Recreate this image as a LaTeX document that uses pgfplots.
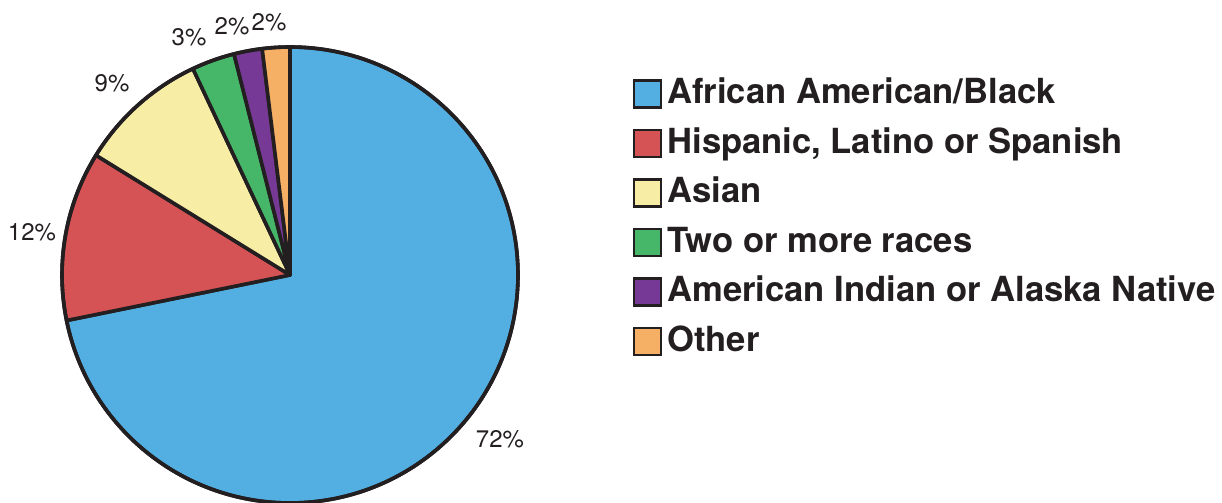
\documentclass[border=0pt]{standalone}
\usepackage{fontspec}
\setmainfont{TeX Gyre Heros}
\usepackage{pgfplots}
\usepackage{pgfplotstable}
\pgfplotsset{compat=1.18}
\definecolor{cblue}{HTML}{53AEE1}
\definecolor{cred}{HTML}{D65355}
\definecolor{cyellow}{HTML}{F7EDA5}
\definecolor{cgreen}{HTML}{46B769}
\definecolor{cpurple}{HTML}{773996}
\definecolor{corange}{HTML}{F5B066}
\definecolor{cline}{HTML}{231F20}
\pgfplotstableread{
value col label lx ly
71.8 cblue 72 500 64
12.0 cred 12 32 271
9.2 cyellow 9 112 420
3.05 cgreen 3 189 466
2.0 cpurple 2 232 477
1.95 corange 2 269 481
}\piedata
\pgfplotstableread[col sep=comma]{
name,col
African American/Black,cblue
{Hispanic, Latino or Spanish},cred
Asian,cyellow
Two or more races,cgreen
American Indian or Alaska Native,cpurple
Other,corange
}\legdata
\begin{document}
\begin{tikzpicture}
\begin{axis}[
  x=0.5pt, y=0.5pt,
  xmin=0, xmax=1222, ymin=0, ymax=503,
  hide axis, clip=true,
]
\def\cum{0}
\pgfplotsforeachungrouped \i in {0,...,5}{%
  \pgfplotstablegetelem{\i}{value}\of\piedata \let\sliceval\pgfplotsretval
  \pgfplotstablegetelem{\i}{col}\of\piedata \let\slicecol\pgfplotsretval
  \pgfplotstablegetelem{\i}{label}\of\piedata \let\slicelab\pgfplotsretval
  \pgfplotstablegetelem{\i}{lx}\of\piedata \let\slicelx\pgfplotsretval
  \pgfplotstablegetelem{\i}{ly}\of\piedata \let\slicely\pgfplotsretval
  \pgfmathsetmacro\angA{90-3.6*\cum}
  \pgfmathsetmacro\angB{90-3.6*(\cum+\sliceval)}
  \edef\temp{\noexpand\filldraw[fill=\slicecol, draw=cline, line width=1.8pt, line join=round]
    (axis cs:290,228) -- ++(\angA:114pt) arc[start angle=\angA, end angle=\angB, radius=114pt] -- cycle;
    \noexpand\node[font=\noexpand\fontsize{12}{14}\noexpand\selectfont, text=cline, inner sep=0pt] at (axis cs:\slicelx,\slicely) {\slicelab\noexpand\%};}
  \temp
  \pgfmathsetmacro\cum{\cum+\sliceval}
}
\draw[cline, line width=1.8pt] (axis cs:290,228) circle[radius=114pt];
% legend
\pgfplotsforeachungrouped \i in {0,...,5}{%
  \pgfplotstablegetelem{\i}{name}\of\legdata \let\lab\pgfplotsretval
  \pgfplotstablegetelem{\i}{col}\of\legdata \let\col\pgfplotsretval
  \pgfmathsetmacro\yc{409-49.5*\i}
  \pgfmathsetmacro\yb{399-49.5*\i}
  \edef\temp{\noexpand\filldraw[fill=\col, draw=cline, line width=1.1pt] (axis cs:634,\yc-13.5) rectangle (axis cs:661,\yc+13.5);
  \noexpand\node[anchor=base west, inner sep=0pt, font=\noexpand\bfseries\noexpand\fontsize{17.3}{20}\noexpand\selectfont, text=cline] at (axis cs:667,\yb) {\unexpanded\expandafter{\lab}};}
  \temp
}
\end{axis}
\pgfresetboundingbox
\path (current axis.south west) rectangle (current axis.north east);
\end{tikzpicture}
\end{document}
